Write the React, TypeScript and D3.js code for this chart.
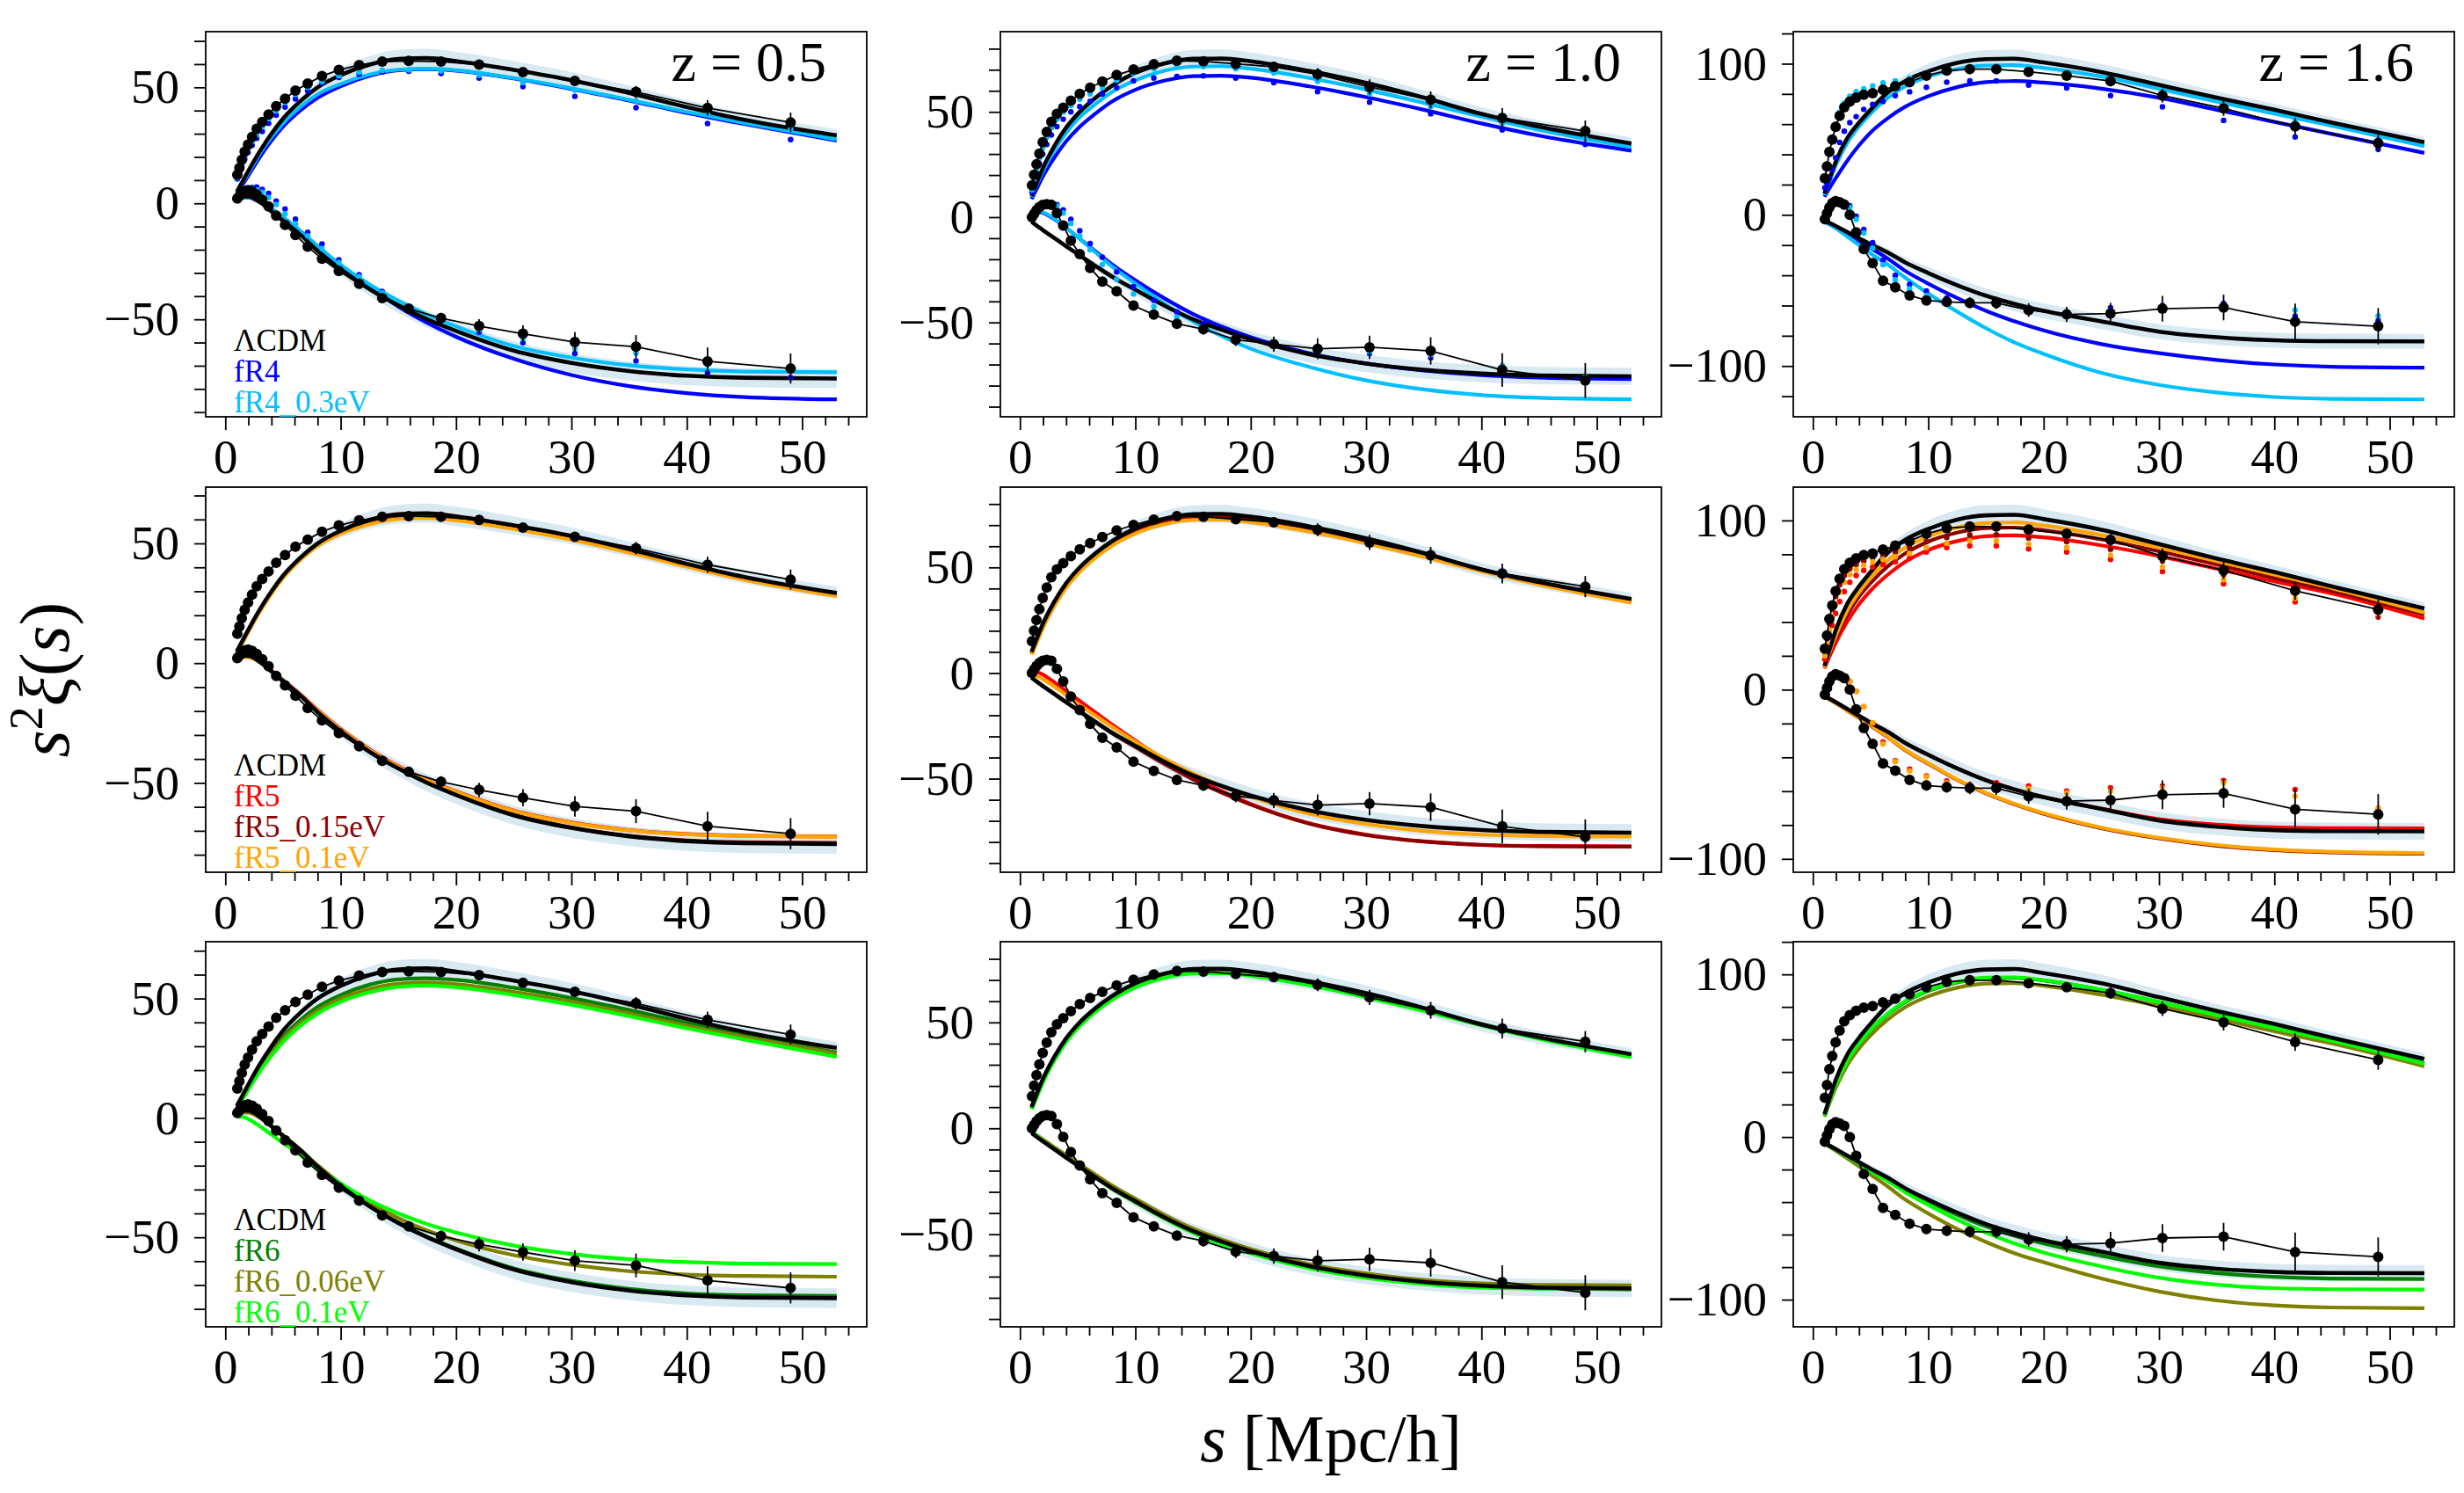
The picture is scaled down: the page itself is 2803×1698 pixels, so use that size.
import React, { useEffect, useRef } from 'react';
import * as d3 from 'd3';

const WIDTH = 2803;
const HEIGHT = 1698;

// panel grid
const PANEL_X = [234, 1138, 2040];
const PANEL_Y = [36, 554, 1071];
const PANEL_W = 752;
const PANEL_H = 438;
const X_DOMAIN = [-1.7, 55.6];
const Y_DOMAINS = [
  [[-92, 74], [-94.8, 88.1], [-133.6, 121.2]],
  [[-87.3, 73.5], [-94.3, 88], [-107.9, 119.7]],
  [[-87.5, 73.8], [-93.7, 88.1], [-116.7, 120.1]],
];

const REDSHIFTS = ['0.5', '1.0', '1.6'];
const X_TICKS = [0, 10, 20, 30, 40, 50];
const Y_TICKS = [[-50, 0, 50], [-50, 0, 50], [-100, 0, 100]];

const ROW_MODELS = [
  ['fR4', 'fR4_0.3eV'],
  ['fR5', 'fR5_0.15eV', 'fR5_0.1eV'],
  ['fR6', 'fR6_0.06eV', 'fR6_0.1eV'],
];
const MODEL_COLORS = {
  'fR4': '#0000ff',
  'fR4_0.3eV': '#00bfff',
  'fR5': '#ff0000',
  'fR5_0.15eV': '#8b0000',
  'fR5_0.1eV': '#ffa500',
  'fR6': '#008000',
  'fR6_0.06eV': '#808000',
  'fR6_0.1eV': '#00ff00',
};

// separations of the measured points [Mpc/h]
const S_DATA = [1.04, 1.22, 1.43, 1.68, 1.97, 2.32, 2.72, 3.2, 3.75, 4.41, 5.18, 6.08, 7.14, 8.38, 9.84, 11.6, 13.6, 15.9, 18.7, 22.0, 25.8, 30.3, 35.6, 41.8, 49.0];
// separations of the model curves [Mpc/h]
const S_MODEL = [1, 1.5, 2, 3, 4, 5, 6.5, 8, 10, 12.5, 15, 17.5, 20, 25, 30, 35, 40, 45, 53];

// ---- LCDM measurements: monopole / quadrupole with errors
const XI0_Z05 = [12.3, 15.3, 18.8, 22.3, 25.3, 28.6, 32.1, 35.1, 38.3, 41.9, 45.1, 48.6, 51.6, 54.9, 57.5, 59.6, 61.1, 61.4, 61.1, 59.8, 56.6, 52.8, 48.0, 41.1, 34.9];
const XI2_Z05 = [2.1, 3.1, 4.4, 5.3, 5.7, 5.1, 3.8, 1.6, -1.3, -5.3, -9.3, -13.6, -18.7, -23.9, -29.2, -34.7, -40.8, -45.4, -49.5, -52.9, -56.2, -59.8, -61.8, -68.1, -71.2];
const ERR0_Z05 = [0.3, 0.3, 0.3, 0.3, 0.3, 0.3, 0.3, 0.3, 0.3, 0.4, 0.4, 0.5, 0.5, 0.6, 0.7, 0.8, 0.9, 1.0, 1.1, 1.3, 1.6, 2.0, 2.6, 3.4, 4.2];
const ERR2_Z05 = [0.3, 0.3, 0.3, 0.3, 0.3, 0.4, 0.4, 0.5, 0.5, 0.6, 0.7, 0.8, 0.9, 1.0, 1.2, 1.4, 1.6, 1.9, 2.3, 3.0, 3.6, 4.3, 5.0, 6.0, 6.5];

const XI0_Z10 = [15.1, 20.1, 25.1, 30.2, 35.6, 40.5, 45.3, 49.1, 52.0, 55.3, 58.6, 61.5, 64.4, 67.5, 70.1, 72.6, 74.3, 74.0, 72.8, 71.4, 67.8, 61.8, 55.7, 47.1, 40.9];
const XI2_Z10 = [0.0, 1.6, 3.3, 4.8, 5.8, 6.2, 5.8, 2.0, -4.0, -11.2, -17.5, -24.1, -30.6, -35.2, -42.0, -46.3, -50.6, -53.2, -58.2, -60.3, -62.5, -61.8, -63.5, -72.6, -77.6];
const ERR0_Z10 = [0.3, 0.3, 0.3, 0.3, 0.4, 0.4, 0.4, 0.5, 0.5, 0.6, 0.6, 0.7, 0.8, 0.9, 1.0, 1.1, 1.2, 1.4, 1.8, 2.3, 3.0, 3.6, 4.0, 4.7, 5.0];
const ERR2_Z10 = [0.3, 0.3, 0.3, 0.4, 0.4, 0.5, 0.5, 0.6, 0.7, 0.8, 0.9, 1.0, 1.2, 1.4, 1.6, 1.9, 2.2, 2.6, 3.0, 3.6, 5.0, 5.5, 6.5, 8.0, 8.3];

const XI0_Z16 = [24.2, 32.0, 41.7, 49.8, 58.2, 65.5, 71.2, 75.0, 77.6, 79.5, 80.5, 82.8, 85.1, 87.8, 92.1, 95.4, 96.4, 96.4, 94.6, 92.1, 88.5, 78.9, 70.5, 58.5, 47.4];
const XI2_Z16 = [-2.9, 1.0, 4.8, 7.8, 9.1, 8.3, 6.8, 0.0, -11.6, -22.7, -32.0, -43.6, -47.9, -53.3, -56.6, -57.6, -58.2, -58.2, -63.0, -65.9, -65.3, -62.1, -61.3, -70.7, -73.7];
const ERR0_Z16 = [0.4, 0.4, 0.4, 0.5, 0.5, 0.6, 0.6, 0.7, 0.8, 0.9, 1.0, 1.1, 1.2, 1.4, 1.6, 1.8, 2.0, 2.2, 2.5, 2.8, 3.5, 4.5, 5.0, 5.5, 6.0];
const ERR2_Z16 = [0.4, 0.5, 0.5, 0.6, 0.7, 0.8, 0.9, 1.0, 1.2, 1.4, 1.6, 1.9, 2.2, 2.6, 3.0, 3.3, 3.6, 4.0, 4.5, 5.0, 7.0, 8.5, 8.5, 12.0, 12.0];

// ---- LCDM model and its uncertainty band half-width
const LCDM_XI0_Z05 = [5, 9.5, 14, 22.5, 30, 36.5, 44, 50, 55.3, 59.8, 62.2, 62.6, 61.3, 57.5, 53.1, 47.6, 41.5, 36.0, 29.3];
const LCDM_XI2_Z05 = [2.0, 3.0, 3.0, 0.5, -3.5, -7.5, -13.5, -20.5, -28.5, -37.0, -44.0, -50.0, -55.0, -63.5, -68.8, -72.3, -74.3, -75.2, -75.5];
const BAND_W0_Z05 = [0.3, 0.4, 0.5, 0.8, 1.0, 1.3, 1.8, 2.4, 3.0, 3.6, 3.9, 4.0, 4.0, 3.8, 3.5, 3.2, 3.0, 2.8, 2.6];
const BAND_W2_Z05 = [0.3, 0.4, 0.5, 0.7, 0.9, 1.1, 1.5, 1.9, 2.4, 2.9, 3.3, 3.6, 3.8, 4.0, 4.1, 4.1, 4.1, 4.1, 4.1];

const LCDM_XI0_Z10 = [10, 17, 23.5, 34, 42.5, 49, 56.5, 62.5, 68.5, 73, 75.2, 75.3, 74, 69.5, 63.8, 56.8, 49, 43, 35];
const LCDM_XI2_Z10 = [-2.2, -4.2, -6.2, -10, -13.8, -17.5, -23, -28.3, -34.5, -42, -48.5, -53.5, -58, -65, -69.5, -72.5, -74.3, -75.2, -75.6];
const BAND_W0_Z10 = [0.3, 0.4, 0.6, 0.9, 1.2, 1.5, 2.0, 2.6, 3.2, 3.8, 4.2, 4.3, 4.2, 4.0, 3.7, 3.4, 3.2, 3.0, 2.8];
const BAND_W2_Z10 = [0.3, 0.4, 0.5, 0.7, 0.9, 1.2, 1.6, 2.0, 2.5, 3.0, 3.4, 3.7, 3.9, 4.0, 4.1, 4.1, 4.1, 4.1, 4.1];

const LCDM_XI0_Z16 = [14, 25, 35.5, 51, 61, 69.5, 81, 88.5, 95, 100.5, 103, 103.3, 100.8, 94.5, 86, 77.5, 69.5, 61, 48];
const LCDM_XI2_Z16 = [-4, -5.5, -7.5, -11.5, -15.5, -19.5, -25, -31.5, -38.5, -46.5, -53.5, -59, -63.5, -70.5, -77.3, -81, -83, -83.6, -83.7];
const BAND_W0_Z16 = [0.5, 0.7, 1.0, 1.5, 2.0, 2.5, 3.3, 4.0, 5.0, 5.7, 6.0, 6.0, 5.8, 5.3, 4.8, 4.3, 4.0, 3.8, 3.6];
const BAND_W2_Z16 = [0.5, 0.7, 0.9, 1.3, 1.7, 2.1, 2.7, 3.3, 4.0, 4.5, 4.8, 5.0, 5.0, 5.0, 5.0, 5.0, 5.0, 5.0, 5.0];

// ---- f(R) models
const FR4_XI0_Z05 = [4, 8, 12, 20, 27, 33, 40, 45.5, 50.5, 55, 57.4, 57.8, 57.2, 53.8, 49.3, 44.3, 39, 34.2, 27.0];
const FR4_XI2_Z05 = [2.0, 2.6, 2.5, 0.5, -2.5, -6, -12, -18.5, -27, -36, -44.5, -51.5, -57.5, -67, -74, -78.8, -81.8, -83.5, -84.5];
const FR4NU_XI0_Z05 = [4.5, 9, 13, 21.5, 28.5, 34.5, 41.5, 47, 51.5, 55.5, 57.6, 58, 57.4, 54, 49.6, 44.6, 39.4, 34.6, 27.5];
const FR4NU_XI2_Z05 = [2.0, 2.6, 2.6, 0.8, -2.3, -6, -12, -18.5, -26.5, -35, -42, -48, -53, -61.5, -66.5, -69.8, -71.6, -72.5, -72.8];
const FR5_XI0_Z05 = [4.5, 9, 13.5, 22, 29.5, 36, 43.5, 49.5, 54.5, 58.5, 60.8, 61.2, 60.2, 56.5, 52, 46.7, 40.8, 35.3, 28.6];
const FR5_XI2_Z05 = [2, 2.7, 2.6, 0.5, -3, -7, -13, -19.5, -27.5, -36, -43, -48.8, -53.5, -61.5, -66.5, -69.7, -71.4, -72.1, -72.4];
const FR5A_XI0_Z05 = [4.5, 9, 13.5, 22, 29.5, 36, 43.5, 49.5, 54.8, 59, 61.2, 61.6, 60.6, 56.8, 52.3, 47, 41, 35.6, 28.9];
const FR5A_XI2_Z05 = [2, 2.8, 2.8, 0.5, -3.3, -7.3, -13.3, -20.2, -28.2, -36.8, -43.8, -49.8, -54.8, -63.3, -68.6, -72.1, -74, -74.8, -75];
const FR5B_XI0_Z05 = [4.2, 8.5, 13, 21.5, 29, 35.5, 43, 49, 54, 58, 60.2, 60.6, 59.6, 56, 51.5, 46.2, 40.3, 34.8, 28];
const FR5B_XI2_Z05 = [2, 2.6, 2.5, 0.4, -3.2, -7.2, -13.3, -19.8, -27.8, -36.3, -43.3, -49, -53.7, -61.7, -66.7, -69.8, -71.5, -72.2, -72.5];
const FR6_XI0_Z05 = [4.5, 8.5, 12.8, 21, 28, 34, 41, 46.5, 51.5, 55.8, 58, 58.5, 57.8, 54.5, 50.2, 45.2, 39.8, 34.8, 27.4];
const FR6_XI2_Z05 = [2, 2.9, 2.9, 0.5, -3.5, -7.5, -13.5, -20.5, -28.5, -37, -44, -49.8, -54.7, -63, -68.2, -71.6, -73.5, -74.3, -74.6];
const FR6A_XI0_Z05 = [4.3, 8.2, 12.3, 20.3, 27, 33, 39.8, 45, 50, 54, 56.2, 56.7, 56, 52.8, 48.7, 43.8, 38.6, 33.9, 26.9];
const FR6A_XI2_Z05 = [1.8, 2.3, 2.2, 0, -3.5, -7.3, -13.3, -19.8, -27.6, -35.5, -42, -47.2, -51.3, -57.5, -61.5, -64.2, -65.6, -66.2, -66.5];
const FR6B_XI0_Z05 = [4, 7.8, 11.8, 19.5, 26, 31.8, 38.5, 43.7, 48.6, 52.6, 54.9, 55.4, 54.7, 51.5, 47.4, 42.6, 37.5, 32.8, 25.6];
const FR6B_XI2_Z05 = [0.5, 0.5, -0.5, -3.5, -7, -10.5, -15.5, -21, -27.5, -34.5, -40, -44.5, -48, -53.5, -57, -59.2, -60.4, -61, -61.2];

const FR4_XI0_Z10 = [8.6, 14, 19.5, 28.5, 36, 42, 49, 55, 60.5, 64.8, 67, 67.2, 66.2, 62.2, 57, 51, 44.5, 38.7, 31.6];
const FR4_XI2_Z10 = [1.5, 2.5, 2.0, -1, -5, -9.5, -16, -22.5, -30, -38.5, -46, -52, -57, -64.5, -69.5, -72.8, -75, -76.2, -76.9];
const FR4NU_XI0_Z10 = [9.5, 16, 22, 32, 40, 46.5, 53.5, 59.5, 65, 69.5, 71.5, 71.7, 70.5, 66.2, 60.6, 54.3, 47.8, 41.5, 33.3];
const FR4NU_XI2_Z10 = [1.8, 2.8, 2.3, -0.8, -5, -9.5, -16.5, -23.5, -31.5, -41, -49.5, -56.5, -62.5, -71, -77.5, -81.8, -84.5, -85.8, -86.5];
const FR5_XI0_Z10 = [9, 15.5, 22, 32.5, 41, 47.5, 55, 61, 66.8, 71.2, 73.3, 73.4, 72.2, 67.8, 62.2, 55.7, 48.8, 42.5, 34];
const FR5_XI2_Z10 = [1, 0.5, -0.8, -4.5, -8.5, -12.5, -18.5, -24.5, -32, -41, -49, -56, -62, -71, -76.5, -79.7, -81.3, -81.9, -82.1];
const FR5A_XI0_Z10 = [9.2, 15.8, 22.3, 32.8, 41.3, 47.8, 55.3, 61.3, 67.1, 71.5, 73.6, 73.7, 72.5, 68.1, 62.5, 56, 49.1, 42.8, 34.3];
const FR5A_XI2_Z10 = [-2.2, -4.2, -6.2, -10, -13.8, -17.5, -23, -28.5, -35, -43, -50.3, -56.7, -62.3, -71.2, -76.7, -79.8, -81.4, -82, -82.2];
const FR5B_XI0_Z10 = [8.7, 15, 21.4, 31.8, 40.3, 46.8, 54.3, 60.3, 66, 70.4, 72.5, 72.6, 71.4, 67, 61.4, 55, 48.2, 41.9, 33.3];
const FR5B_XI2_Z10 = [-0.5, -1.5, -3, -6.5, -10.5, -14.5, -20, -25.5, -32.5, -40.5, -47.5, -53.5, -58.5, -66.5, -71.5, -74.8, -76.5, -77.2, -77.4];
const FR6_XI0_Z10 = [9.5, 16, 22.5, 33, 41.5, 48, 55.5, 61.5, 67.3, 71.8, 74, 74.1, 72.9, 68.5, 62.8, 56.2, 49.3, 43, 34.3];
const FR6_XI2_Z10 = [-1.5, -3.6, -5.7, -9.6, -13.5, -17.3, -22.8, -28.2, -34.5, -42, -48.7, -54, -58.5, -65.5, -70, -73, -74.8, -75.6, -76];
const FR6A_XI0_Z10 = [9.3, 15.7, 22.2, 32.7, 41.2, 47.7, 55.2, 61.2, 67, 71.5, 73.7, 73.8, 72.6, 68.2, 62.5, 55.9, 49, 42.7, 34];
const FR6A_XI2_Z10 = [-1.5, -3.4, -5.3, -9, -12.7, -16.3, -21.7, -27, -33.2, -40.8, -47.3, -52.5, -57, -64, -68.5, -71.5, -73.2, -73.9, -74.1];
const FR6B_XI0_Z10 = [9, 15.3, 21.7, 32.2, 40.7, 47.2, 54.7, 60.7, 66.5, 71, 73.1, 73.2, 72, 67.6, 61.9, 55.4, 48.6, 42.3, 33.6];
const FR6B_XI2_Z10 = [-1.5, -3.7, -5.9, -9.9, -13.8, -17.6, -23.1, -28.6, -35, -42.6, -49.3, -54.6, -59, -66, -70.6, -73.5, -75.2, -75.6, -75.8];

const FR4_XI0_Z16 = [12, 18.5, 24.5, 36, 46, 54.5, 64, 71.5, 78.5, 84.5, 87.8, 88.5, 87.5, 83.5, 77.5, 69.5, 61.5, 53.5, 41];
const FR4_XI2_Z16 = [-4.5, -6.5, -8.5, -13, -17.5, -22, -29, -37, -45.5, -55, -63.5, -70.5, -76.5, -85.5, -91.5, -96, -99, -100.5, -101.1];
const FR4NU_XI0_Z16 = [13, 23.5, 33, 48, 58.5, 67, 77.5, 85, 91.5, 96.5, 98.8, 99, 97.2, 91.5, 83.5, 75, 67, 59, 45.5];
const FR4NU_XI2_Z16 = [-4, -6.5, -9, -14.5, -20, -25.5, -33, -41.5, -52, -64, -75, -84.5, -92, -104.5, -112.5, -117.5, -120.5, -121.7, -122.1];
const FR5_XI0_Z16 = [12.5, 20.5, 28, 40.5, 50.5, 58.5, 68, 75.5, 82.5, 87.8, 90.7, 91.2, 90, 85.3, 79, 71.5, 64, 56.8, 42];
const FR5_XI2_Z16 = [-4, -5.5, -7.5, -11.5, -15.5, -19.5, -25, -31.5, -38.5, -46.5, -53.5, -59, -63.5, -70.3, -76.5, -79.8, -81.3, -81.8, -82];
const FR5A_XI0_Z16 = [13, 22, 30.5, 44.5, 55, 63, 73, 80.5, 87.5, 92.8, 95.5, 95.8, 94.2, 88.8, 81.8, 74, 66, 58.3, 44.4];
const FR5A_XI2_Z16 = [-4, -6, -8, -12.5, -16.7, -21.2, -28.2, -35.8, -43.8, -53.3, -61.3, -67.8, -73.4, -81.9, -87.9, -92.2, -94.9, -96.2, -97];
const FR5B_XI0_Z16 = [13, 23, 32, 47, 57.5, 66, 76.5, 84, 90.5, 95.8, 98.5, 98.8, 97, 91.3, 84, 76, 68, 60, 45.6];
const FR5B_XI2_Z16 = [-4, -6, -8, -12.5, -16.5, -21, -28, -35.5, -43.5, -53, -61, -67.5, -73, -81.5, -87.5, -91.8, -94.5, -95.8, -96.6];
const FR6_XI0_Z16 = [13, 23, 32, 46.5, 57, 65.5, 75.5, 83, 89.8, 95, 97.6, 97.9, 96.2, 90.5, 83, 75, 67, 59.3, 45.4];
const FR6_XI2_Z16 = [-4, -5.6, -7.6, -11.7, -15.8, -20, -25.7, -32.3, -39.5, -47.8, -55, -60.8, -65.5, -73, -79.5, -83.7, -86, -87, -87.3];
const FR6A_XI0_Z16 = [12.5, 22, 30.5, 44.5, 54.5, 62.5, 72.3, 79.8, 86.5, 91.8, 94.3, 94.6, 93, 87.5, 80.5, 72.8, 65, 57.5, 43.5];
const FR6A_XI2_Z16 = [-4, -6.2, -8.5, -13.2, -18, -23, -30.5, -38.5, -47, -56.5, -64.5, -71.5, -77, -87, -95, -100.5, -103.5, -104.8, -105.3];
const FR6B_XI0_Z16 = [13, 23.2, 32.3, 47, 57.5, 66, 76, 83.5, 90.2, 95.4, 98, 98.2, 96.4, 90.6, 83, 75, 67, 59.2, 45];
const FR6B_XI2_Z16 = [-4, -5.8, -7.9, -12.2, -16.5, -21, -27, -34, -41.8, -50.8, -58.8, -65.5, -71, -79.5, -86.5, -90.8, -92.9, -93.6, -93.8];

// ---- f(R) measurements (drawn as small dots)
const FR4_DOTS0_Z05 = [10.5, 13, 16, 19, 22, 25, 28, 31, 34.5, 38, 41.5, 45, 48.5, 51.8, 54.3, 55.6, 56.6, 56.9, 56, 54, 50.3, 46.1, 41.2, 34.4, 27.5];
const FR4_DOTS2_Z05 = [2.5, 3.8, 5, 6, 6.5, 6.8, 7.0, 6.0, 4.3, 1.0, -2.4, -6.8, -12.5, -17.5, -24.3, -30.8, -38, -44.5, -50.5, -55.5, -60.1, -64.7, -67.9, -73.1, -75.1];
const FR4NU_DOTS0_Z05 = [11, 14, 17, 20, 23, 26.5, 29.5, 33, 36.5, 40, 43.5, 47, 50, 52.5, 55, 56.5, 57.3, 57.5, 57, 55.2, 52, 48.8, 44.2, 38.6, 32];
const FR4NU_DOTS2_Z05 = [2.5, 3.7, 4.8, 5.8, 6.3, 6.4, 5.8, 4.8, 2.5, -0.5, -4.5, -8.8, -14, -19.5, -25.5, -31.5, -38.5, -44.5, -50, -54.5, -58.5, -62.5, -64.5, -69.5, -72];

const FR4_DOTS0_Z10 = [12, 16.5, 21, 25.5, 30, 34.5, 39, 43, 46.5, 50, 52.5, 55, 58.5, 61.5, 64.7, 66.1, 66.8, 67.1, 66.1, 63.9, 59.6, 54.6, 49.1, 41.4, 34.5];
const FR4_DOTS2_Z10 = [0.5, 2.2, 4, 5.5, 6.5, 7, 7, 6, 3.5, -1, -6.5, -12.5, -19, -26, -33, -39.5, -45, -50.5, -56.5, -60.5, -63, -64.7, -66.8, -71.8, -77.6];
const FR4NU_DOTS0_Z10 = [13, 18, 23, 28, 33, 38, 42.5, 46.5, 50, 53, 56, 58.5, 61.5, 65, 68.3, 70.5, 71.5, 71.5, 70.5, 68.5, 64.5, 58.6, 52.5, 44.5, 37.5];
const FR4NU_DOTS2_Z10 = [0.5, 2.2, 4, 5.5, 6.5, 6.8, 6.5, 5.2, 2, -3, -9, -15.5, -22.5, -29.5, -36.5, -42.5, -47.5, -52.5, -57.5, -61, -63, -64, -65.5, -70.5, -76];

const FR4_DOTS0_Z16 = [18, 21, 24, 30, 37.8, 47.9, 55.3, 61, 65, 69.8, 73.1, 75, 78.9, 81.4, 84.4, 87.8, 88.6, 88.6, 85.9, 84, 78.9, 71.5, 62.5, 51.5, 43.4];
const FR4_DOTS2_Z16 = [-3, 1, 5, 8, 9.5, 9.5, 8.5, 6, -1, -9.7, -18.4, -30, -40.1, -46, -50.4, -55, -58, -60, -61.5, -64.5, -61.5, -60, -58.5, -67, -70];
const FR4NU_DOTS0_Z16 = [25, 33, 42.5, 51, 60, 68, 74, 78.5, 81.5, 83.4, 85.3, 87.3, 88.6, 90.5, 94, 97, 98, 98, 96, 93.5, 89.5, 81, 72, 62, 50];
const FR4NU_DOTS2_Z16 = [-3, 1, 5, 8, 9.5, 9.3, 8, 5, -3, -12, -22, -33, -43, -49, -53.5, -58, -59, -59.5, -62, -65, -63.5, -61, -60, -63, -67];
const FR5_DOTS0_Z16 = [18, 24, 31, 38, 45, 52, 58, 63.5, 67.5, 70.5, 72.5, 74, 75.5, 77.8, 81.4, 84, 85, 85, 83.2, 81.4, 76.9, 69.8, 62.6, 51.9, 42.9];
const FR5_DOTS2_Z16 = [-3, 1, 5, 8, 9.5, 9, 8, 5, -1, -10, -20, -31, -42, -47, -51, -54, -56, -55, -57, -60, -58, -57, -53.7, -59, -71];
const FR5A_DOTS0_Z16 = [22, 30, 39, 47.5, 55, 62, 67.5, 71.5, 74, 76, 78, 79.5, 81.5, 84, 87.5, 90, 91.5, 91.5, 89.5, 87.5, 83, 76, 68, 57, 46.5];
const FR5B_DOTS0_Z16 = [20, 27, 35, 43, 50.5, 57.5, 63.5, 68, 71, 73.5, 75.5, 77, 78.5, 80.5, 84, 86.5, 88, 88, 86, 84, 79.5, 72.5, 65, 54, 45];
const FR5B_DOTS2_Z16 = [-3, 1, 5, 8, 9.5, 9, 8, 5, -1, -10, -19.5, -32, -42.5, -48, -51.5, -55, -56.5, -57.5, -58.5, -61, -60, -58, -55, -63, -70];

// lookup tables assembled from the arrays above
const DATA = {
  '0.5': { xi0: XI0_Z05, xi2: XI2_Z05, err0: ERR0_Z05, err2: ERR2_Z05 },
  '1.0': { xi0: XI0_Z10, xi2: XI2_Z10, err0: ERR0_Z10, err2: ERR2_Z10 },
  '1.6': { xi0: XI0_Z16, xi2: XI2_Z16, err0: ERR0_Z16, err2: ERR2_Z16 },
};
const LCDM = {
  '0.5': { xi0: LCDM_XI0_Z05, xi2: LCDM_XI2_Z05, w0: BAND_W0_Z05, w2: BAND_W2_Z05 },
  '1.0': { xi0: LCDM_XI0_Z10, xi2: LCDM_XI2_Z10, w0: BAND_W0_Z10, w2: BAND_W2_Z10 },
  '1.6': { xi0: LCDM_XI0_Z16, xi2: LCDM_XI2_Z16, w0: BAND_W0_Z16, w2: BAND_W2_Z16 },
};
const MODELS = {
  'fR4': {
    '0.5': { xi0: FR4_XI0_Z05, xi2: FR4_XI2_Z05, dots0: FR4_DOTS0_Z05, dots2: FR4_DOTS2_Z05 },
    '1.0': { xi0: FR4_XI0_Z10, xi2: FR4_XI2_Z10, dots0: FR4_DOTS0_Z10, dots2: FR4_DOTS2_Z10 },
    '1.6': { xi0: FR4_XI0_Z16, xi2: FR4_XI2_Z16, dots0: FR4_DOTS0_Z16, dots2: FR4_DOTS2_Z16 },
  },
  'fR4_0.3eV': {
    '0.5': { xi0: FR4NU_XI0_Z05, xi2: FR4NU_XI2_Z05, dots0: FR4NU_DOTS0_Z05, dots2: FR4NU_DOTS2_Z05 },
    '1.0': { xi0: FR4NU_XI0_Z10, xi2: FR4NU_XI2_Z10, dots0: FR4NU_DOTS0_Z10, dots2: FR4NU_DOTS2_Z10 },
    '1.6': { xi0: FR4NU_XI0_Z16, xi2: FR4NU_XI2_Z16, dots0: FR4NU_DOTS0_Z16, dots2: FR4NU_DOTS2_Z16 },
  },
  'fR5': {
    '0.5': { xi0: FR5_XI0_Z05, xi2: FR5_XI2_Z05 },
    '1.0': { xi0: FR5_XI0_Z10, xi2: FR5_XI2_Z10 },
    '1.6': { xi0: FR5_XI0_Z16, xi2: FR5_XI2_Z16, dots0: FR5_DOTS0_Z16, dots2: FR5_DOTS2_Z16 },
  },
  'fR5_0.15eV': {
    '0.5': { xi0: FR5A_XI0_Z05, xi2: FR5A_XI2_Z05 },
    '1.0': { xi0: FR5A_XI0_Z10, xi2: FR5A_XI2_Z10 },
    '1.6': { xi0: FR5A_XI0_Z16, xi2: FR5A_XI2_Z16, dots0: FR5A_DOTS0_Z16 },
  },
  'fR5_0.1eV': {
    '0.5': { xi0: FR5B_XI0_Z05, xi2: FR5B_XI2_Z05 },
    '1.0': { xi0: FR5B_XI0_Z10, xi2: FR5B_XI2_Z10 },
    '1.6': { xi0: FR5B_XI0_Z16, xi2: FR5B_XI2_Z16, dots0: FR5B_DOTS0_Z16, dots2: FR5B_DOTS2_Z16 },
  },
  'fR6': {
    '0.5': { xi0: FR6_XI0_Z05, xi2: FR6_XI2_Z05 },
    '1.0': { xi0: FR6_XI0_Z10, xi2: FR6_XI2_Z10 },
    '1.6': { xi0: FR6_XI0_Z16, xi2: FR6_XI2_Z16 },
  },
  'fR6_0.06eV': {
    '0.5': { xi0: FR6A_XI0_Z05, xi2: FR6A_XI2_Z05 },
    '1.0': { xi0: FR6A_XI0_Z10, xi2: FR6A_XI2_Z10 },
    '1.6': { xi0: FR6A_XI0_Z16, xi2: FR6A_XI2_Z16 },
  },
  'fR6_0.1eV': {
    '0.5': { xi0: FR6B_XI0_Z05, xi2: FR6B_XI2_Z05 },
    '1.0': { xi0: FR6B_XI0_Z10, xi2: FR6B_XI2_Z10 },
    '1.6': { xi0: FR6B_XI0_Z16, xi2: FR6B_XI2_Z16 },
  },
};

const FONT = '"Liberation Serif", "DejaVu Serif", serif';
const BAND_FILL = '#d9e9f2';

const pairs = (xs, ys) => xs.map((s, i) => [s, ys[i]]);

function drawPanel(g, row, col) {
  const z = REDSHIFTS[col];
  const models = ROW_MODELS[row];
  const x = d3.scaleLinear().domain(X_DOMAIN).range([0, PANEL_W]);
  const y = d3.scaleLinear().domain(Y_DOMAINS[row][col]).range([PANEL_H, 0]);

  const clipId = `clip-${row}-${col}`;
  g.append('clipPath').attr('id', clipId)
    .append('rect').attr('width', PANEL_W).attr('height', PANEL_H);
  const plot = g.append('g').attr('clip-path', `url(#${clipId})`);

  const smooth = d3.line().x(d => x(d[0])).y(d => y(d[1])).curve(d3.curveMonotoneX);
  const straight = d3.line().x(d => x(d[0])).y(d => y(d[1]));
  const band = d3.area()
    .x(d => x(d.s))
    .y0(d => y(d.lo))
    .y1(d => y(d.hi))
    .curve(d3.curveMonotoneX);

  // LCDM uncertainty band
  const lcdm = LCDM[z];
  [[lcdm.xi0, lcdm.w0], [lcdm.xi2, lcdm.w2]].forEach(([v, w]) => {
    plot.append('path')
      .datum(S_MODEL.map((s, i) => ({ s, lo: v[i] - w[i], hi: v[i] + w[i] })))
      .attr('d', band)
      .attr('fill', BAND_FILL);
  });

  // model curves
  models.forEach(name => {
    const m = MODELS[name][z];
    [m.xi0, m.xi2].forEach(v => {
      plot.append('path')
        .datum(pairs(S_MODEL, v))
        .attr('d', smooth)
        .attr('fill', 'none')
        .attr('stroke', MODEL_COLORS[name])
        .attr('stroke-width', 4.2);
    });
  });
  [lcdm.xi0, lcdm.xi2].forEach(v => {
    plot.append('path')
      .datum(pairs(S_MODEL, v))
      .attr('d', smooth)
      .attr('fill', 'none')
      .attr('stroke', '#000')
      .attr('stroke-width', 4.6);
  });

  // model measurements
  models.forEach(name => {
    const m = MODELS[name][z];
    [m.dots0, m.dots2].forEach(v => {
      if (!v) return;
      plot.append('g')
        .selectAll('circle')
        .data(pairs(S_DATA, v))
        .join('circle')
        .attr('cx', d => x(d[0]))
        .attr('cy', d => y(d[1]))
        .attr('r', 3.2)
        .attr('fill', MODEL_COLORS[name]);
    });
  });

  // LCDM measurements with error bars
  const data = DATA[z];
  [[data.xi0, data.err0], [data.xi2, data.err2]].forEach(([v, e]) => {
    const pts = S_DATA.map((s, i) => ({ s, v: v[i], e: e[i] }));
    plot.append('path')
      .datum(pairs(S_DATA, v))
      .attr('d', straight)
      .attr('fill', 'none')
      .attr('stroke', '#000')
      .attr('stroke-width', 1.8);
    plot.append('g')
      .selectAll('line')
      .data(pts)
      .join('line')
      .attr('x1', d => x(d.s))
      .attr('x2', d => x(d.s))
      .attr('y1', d => y(d.v - d.e))
      .attr('y2', d => y(d.v + d.e))
      .attr('stroke', '#000')
      .attr('stroke-width', 1.8);
    plot.append('g')
      .selectAll('circle')
      .data(pts)
      .join('circle')
      .attr('cx', d => x(d.s))
      .attr('cy', d => y(d.v))
      .attr('r', 6)
      .attr('fill', '#000');
  });

  // frame
  g.append('rect')
    .attr('width', PANEL_W)
    .attr('height', PANEL_H)
    .attr('fill', 'none')
    .attr('stroke', '#000')
    .attr('stroke-width', 1.8);

  const styleAxis = sel => {
    sel.select('.domain').remove();
    sel.selectAll('line').attr('stroke', '#000').attr('stroke-width', 1.8);
    sel.attr('font-family', FONT).attr('font-size', 55);
    sel.selectAll('text').attr('fill', '#000');
  };

  // x axis: minor every 2, labelled major every 10
  g.append('g')
    .attr('transform', `translate(0,${PANEL_H})`)
    .call(d3.axisBottom(x).tickValues(d3.range(0, 56, 2).filter(t => t % 10 !== 0)).tickSize(10).tickFormat(() => ''))
    .call(styleAxis);
  g.append('g')
    .attr('transform', `translate(0,${PANEL_H})`)
    .call(d3.axisBottom(x).tickValues(X_TICKS).tickSize(15).tickPadding(10).tickFormat(d3.format('d')))
    .call(styleAxis);

  // y axis
  const [y0, y1] = Y_DOMAINS[row][col];
  const yMajor = Y_TICKS[col];
  const yStep = (yMajor[1] - yMajor[0]) / 5;
  const yMinor = d3.range(Math.ceil(y0 / yStep) * yStep, y1, yStep).filter(t => !yMajor.includes(t));
  g.append('g')
    .call(d3.axisLeft(y).tickValues(yMinor).tickSize(13).tickFormat(() => ''))
    .call(styleAxis);
  g.append('g')
    .call(d3.axisLeft(y).tickValues(yMajor).tickSize(13).tickPadding(17).tickFormat(d3.format('d')))
    .call(styleAxis);

  // redshift label on the top row
  if (row === 0) {
    g.append('text')
      .attr('x', PANEL_W - 46)
      .attr('y', 56)
      .attr('text-anchor', 'end')
      .attr('font-family', FONT)
      .attr('font-size', 64)
      .text(`z = ${z}`);
  }

  // legend in the first column
  if (col === 0) {
    const entries = [{ name: '\u039BCDM', color: '#000' }].concat(
      models.map(name => ({ name, color: MODEL_COLORS[name] }))
    );
    const n = entries.length;
    g.append('g')
      .selectAll('text')
      .data(entries)
      .join('text')
      .attr('x', 32)
      .attr('y', (d, i) => PANEL_H - 5 - (n - 1 - i) * 35)
      .attr('font-family', FONT)
      .attr('font-size', 35)
      .attr('fill', d => d.color)
      .text(d => d.name);
  }
}

const App = () => {
  const svgRef = useRef(null);

  useEffect(() => {
    const svg = d3.select(svgRef.current);
    svg.selectAll('*').remove();
    svg.attr('width', WIDTH).attr('height', HEIGHT);

    svg.append('rect').attr('width', WIDTH).attr('height', HEIGHT).attr('fill', '#fff');

    ROW_MODELS.forEach((_, row) => {
      REDSHIFTS.forEach((__, col) => {
        const g = svg.append('g').attr('transform', `translate(${PANEL_X[col]},${PANEL_Y[row]})`);
        drawPanel(g, row, col);
      });
    });

    // shared axis titles
    const xt = svg.append('text')
      .attr('x', PANEL_X[1] + PANEL_W / 2)
      .attr('y', 1662)
      .attr('text-anchor', 'middle')
      .attr('font-family', FONT)
      .attr('font-size', 76);
    xt.append('tspan').attr('font-style', 'italic').text('s');
    xt.append('tspan').text(' [Mpc/h]');

    const yt = svg.append('text')
      .attr('transform', `translate(78,${(PANEL_Y[1] + PANEL_H / 2)}) rotate(-90)`)
      .attr('text-anchor', 'middle')
      .attr('font-family', FONT)
      .attr('font-size', 80);
    yt.append('tspan').attr('font-style', 'italic').text('s');
    yt.append('tspan').attr('font-size', 54).attr('dy', -30).text('2');
    yt.append('tspan').attr('font-style', 'italic').attr('dy', 30).text('\u03BE');
    yt.append('tspan').text('(');
    yt.append('tspan').attr('font-style', 'italic').text('s');
    yt.append('tspan').text(')');
  }, []);

  return <svg ref={svgRef} style={{ position: 'absolute', left: 0, top: 0, display: 'block' }} />;
};

export default App;
